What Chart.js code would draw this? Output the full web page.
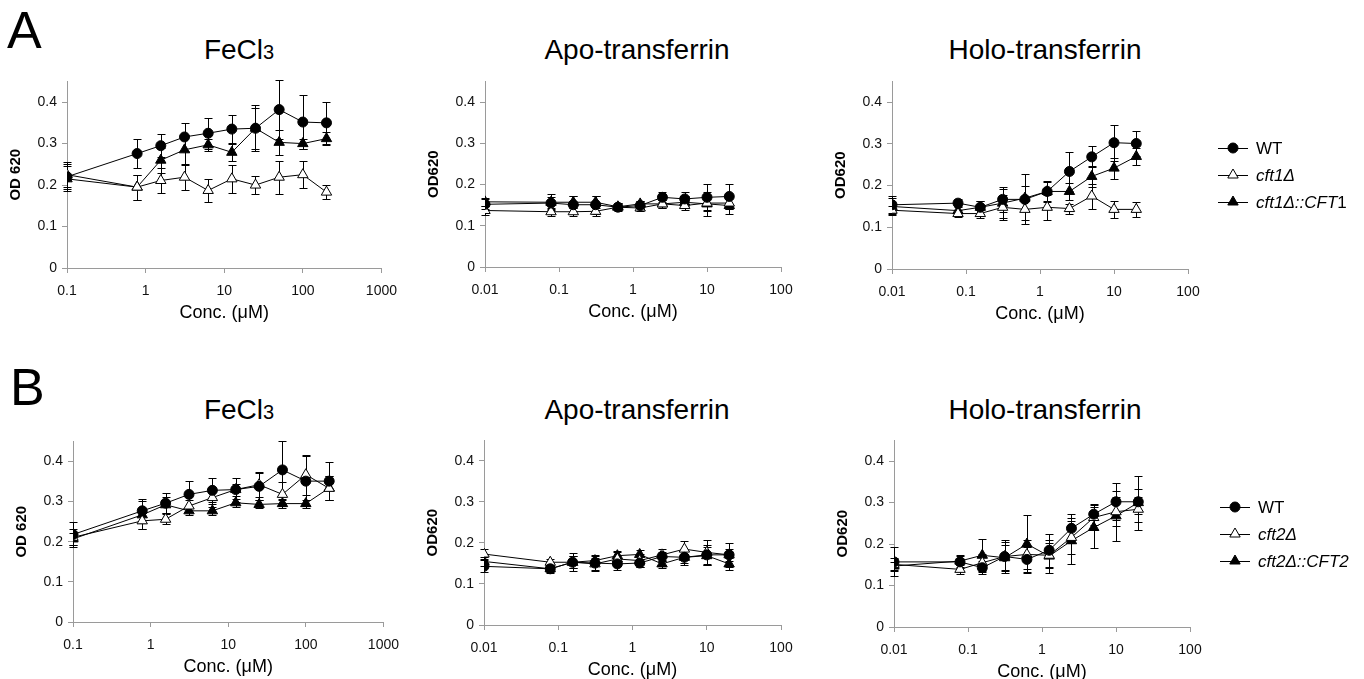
<!DOCTYPE html>
<html>
<head>
<meta charset="utf-8">
<script src="https://cdn.jsdelivr.net/npm/chart.js"></script>
<style>
  body { margin: 0; background: #fff; width: 1364px; height: 679px; overflow: hidden; position: relative;
         font-family: "Liberation Sans", Arial, sans-serif; }
  canvas { position: absolute; }
  .letter { position: absolute; font-size: 52px; line-height: 52px; color: #000; }
  .title { position: absolute; width: 300px; text-align: center; font-size: 28px; line-height: 32px; color: #000; }
  .title span { font-size: 20px; }
</style>
</head>
<body>
<div class="letter" style="left:7px;top:4px">A</div>
<div class="letter" style="left:10px;top:361px">B</div>
<div class="title" style="left:89px;top:34px">FeCl<span>3</span></div>
<div class="title" style="left:487px;top:34px">Apo-transferrin</div>
<div class="title" style="left:895px;top:34px">Holo-transferrin</div>
<div class="title" style="left:89px;top:394px">FeCl<span>3</span></div>
<div class="title" style="left:487px;top:394px">Apo-transferrin</div>
<div class="title" style="left:895px;top:394px">Holo-transferrin</div>

<canvas id="aFe" width="402" height="256" style="left:5px;top:68px"></canvas>
<canvas id="aApo" width="380" height="255" style="left:423px;top:68px"></canvas>
<canvas id="aHolo" width="534" height="257" style="left:830px;top:68px"></canvas>
<canvas id="bFe" width="398" height="250" style="left:11px;top:428px"></canvas>
<canvas id="bApo" width="381" height="254" style="left:422px;top:427px"></canvas>
<canvas id="bHolo" width="532" height="256" style="left:832px;top:427px"></canvas>

<script>
// concentrations (µM) and axis ticks
const concFe = [0.1, 0.78, 1.56, 3.125, 6.25, 12.5, 25, 50, 100, 200];
const concTf = [0.01, 0.078, 0.156, 0.3125, 0.625, 1.25, 2.5, 5, 10, 20];
const feTicks = [0.1, 1, 10, 100, 1000];
const tfTicks = [0.01, 0.1, 1, 10, 100];
const odTicks = [0, 0.1, 0.2, 0.3, 0.4];

const aLabels = ['WT', 'cft1Δ', 'cft1Δ::CFT1'];
const bLabels = ['WT', 'cft2Δ', 'cft2Δ::CFT2'];

// A - FeCl3
const aFeWT      = [0.22, 0.276, 0.295, 0.316, 0.325, 0.335, 0.337, 0.382, 0.352, 0.35];
const aFeWTErr   = [0.03, 0.034, 0.028, 0.034, 0.037, 0.034, 0.056, 0.072, 0.066, 0.05];
const aFeMut     = [0.225, 0.195, 0.211, 0.219, 0.187, 0.215, 0.2, 0.219, 0.225, 0.183];
const aFeMutErr  = [0.03, 0.03, 0.03, 0.03, 0.028, 0.033, 0.022, 0.04, 0.032, 0.017];
const aFeComp    = [0.215, 0.195, 0.26, 0.285, 0.297, 0.279, 0.337, 0.303, 0.30, 0.312];
const aFeCompErr = [0.03, 0.03, 0.03, 0.035, 0.015, 0.02, 0.05, 0.03, 0.012, 0.015];

// A - Apo-transferrin
const aApoWT      = [0.152, 0.155, 0.151, 0.151, 0.145, 0.149, 0.169, 0.165, 0.169, 0.171];
const aApoWTErr   = [0.012, 0.015, 0.02, 0.022, 0.01, 0.01, 0.012, 0.018, 0.032, 0.03];
const aApoMut     = [0.137, 0.134, 0.134, 0.135, 0.145, 0.143, 0.153, 0.149, 0.155, 0.155];
const aApoMutErr  = [0.01, 0.01, 0.01, 0.012, 0.008, 0.008, 0.01, 0.012, 0.02, 0.015];
const aApoComp    = [0.158, 0.157, 0.157, 0.157, 0.146, 0.153, 0.153, 0.157, 0.153, 0.149];
const aApoCompErr = [0.01, 0.02, 0.015, 0.015, 0.008, 0.008, 0.01, 0.015, 0.03, 0.02];

// A - Holo-transferrin
const aHoloWT      = [0.154, 0.158, 0.148, 0.167, 0.167, 0.186, 0.234, 0.269, 0.303, 0.301];
const aHoloWTErr   = [0.02, 0.01, 0.015, 0.03, 0.06, 0.022, 0.046, 0.025, 0.043, 0.03];
const aHoloMut     = [0.141, 0.133, 0.133, 0.148, 0.143, 0.148, 0.145, 0.175, 0.143, 0.143];
const aHoloMutErr  = [0.01, 0.008, 0.01, 0.03, 0.025, 0.03, 0.012, 0.03, 0.02, 0.018];
const aHoloComp    = [0.15, 0.14, 0.148, 0.158, 0.17, 0.186, 0.186, 0.222, 0.242, 0.27];
const aHoloCompErr = [0.02, 0.01, 0.015, 0.035, 0.03, 0.025, 0.02, 0.025, 0.025, 0.02];

// B - FeCl3
const bFeWT      = [0.218, 0.277, 0.296, 0.318, 0.328, 0.33, 0.338, 0.379, 0.351, 0.351];
const bFeWTErr   = [0.03, 0.03, 0.025, 0.033, 0.03, 0.03, 0.035, 0.072, 0.062, 0.048];
const bFeMut     = [0.211, 0.252, 0.256, 0.289, 0.31, 0.33, 0.342, 0.318, 0.367, 0.333];
const bFeMutErr  = [0.02, 0.02, 0.012, 0.015, 0.015, 0.015, 0.03, 0.03, 0.05, 0.03];
const bFeComp    = [0.207, 0.267, 0.292, 0.277, 0.277, 0.297, 0.293, 0.295, 0.295, 0.334];
const bFeCompErr = [0.015, 0.035, 0.02, 0.01, 0.01, 0.01, 0.01, 0.01, 0.01, 0.03];

// B - Apo-transferrin
const bApoWT      = [0.143, 0.137, 0.153, 0.151, 0.149, 0.151, 0.167, 0.165, 0.171, 0.171];
const bApoWTErr   = [0.015, 0.01, 0.022, 0.02, 0.015, 0.01, 0.012, 0.018, 0.025, 0.03];
const bApoMut     = [0.173, 0.153, 0.153, 0.149, 0.161, 0.157, 0.171, 0.185, 0.177, 0.171];
const bApoMutErr  = [0.012, 0.008, 0.015, 0.015, 0.018, 0.015, 0.015, 0.02, 0.03, 0.015];
const bApoComp    = [0.155, 0.137, 0.153, 0.157, 0.169, 0.172, 0.149, 0.165, 0.169, 0.149];
const bApoCompErr = [0.01, 0.008, 0.015, 0.012, 0.012, 0.01, 0.01, 0.015, 0.02, 0.015];

// B - Holo-transferrin
const bHoloWT      = [0.157, 0.157, 0.143, 0.17, 0.163, 0.185, 0.238, 0.272, 0.302, 0.302];
const bHoloWTErr   = [0.035, 0.015, 0.015, 0.04, 0.03, 0.04, 0.035, 0.025, 0.045, 0.03];
const bHoloMut     = [0.151, 0.139, 0.155, 0.17, 0.175, 0.173, 0.216, 0.264, 0.278, 0.284];
const bHoloMutErr  = [0.015, 0.01, 0.02, 0.035, 0.035, 0.03, 0.04, 0.03, 0.035, 0.03];
const bHoloComp    = [0.147, 0.159, 0.173, 0.167, 0.2, 0.171, 0.208, 0.24, 0.268, 0.3];
const bHoloCompErr = [0.01, 0.015, 0.04, 0.03, 0.07, 0.04, 0.055, 0.05, 0.06, 0.065];

const FONT = '"Liberation Sans", Arial, sans-serif';
Chart.defaults.font.family = FONT;
Chart.defaults.color = '#111';

const AXIS = '#9a9a9a';
const markers = [
  { pointStyle: 'circle', pointRadius: 5, pointBackgroundColor: '#000' },
  { pointStyle: 'triangle', pointRadius: 6, pointBackgroundColor: '#fff' },
  { pointStyle: 'triangle', pointRadius: 6, pointBackgroundColor: '#000' }
];

function drawMarker(ctx, style, x, y, r, fill) {
  ctx.beginPath();
  if (style === 'circle') {
    ctx.arc(x, y, r, 0, Math.PI * 2);
  } else {
    ctx.moveTo(x, y - r);
    ctx.lineTo(x + 0.866 * r, y + 0.5 * r);
    ctx.lineTo(x - 0.866 * r, y + 0.5 * r);
    ctx.closePath();
  }
  ctx.fillStyle = fill;
  ctx.fill();
  ctx.strokeStyle = '#000';
  ctx.lineWidth = 1;
  ctx.stroke();
}

// vertical error bars with caps, drawn under the markers
const errorBars = {
  id: 'errorBars',
  beforeDatasetsDraw(chart) {
    const { ctx, scales: { x, y } } = chart;
    ctx.save();
    ctx.strokeStyle = '#000';
    ctx.lineWidth = 1;
    chart.data.datasets.forEach(ds => {
      ds.data.forEach((p, i) => {
        const e = ds.errors[i];
        const px = Math.round(x.getPixelForValue(p.x)) + 0.5;
        const top = Math.round(y.getPixelForValue(p.y + e)) + 0.5;
        const bot = Math.round(y.getPixelForValue(p.y - e)) + 0.5;
        ctx.beginPath();
        ctx.moveTo(px, top); ctx.lineTo(px, bot);
        ctx.moveTo(px - 4, top); ctx.lineTo(px + 4, top);
        ctx.moveTo(px - 4, bot); ctx.lineTo(px + 4, bot);
        ctx.stroke();
      });
    });
    ctx.restore();
  }
};

// legend to the right: short line through the marker, strain names in italics
const strainLegend = {
  id: 'strainLegend',
  afterDraw(chart, args, opts) {
    if (!opts || !opts.labels) return;
    const { ctx, chartArea } = chart;
    const x0 = Math.round(chartArea.right + opts.dx);
    chart.data.datasets.forEach((ds, i) => {
      const yy = Math.round(chartArea.top + opts.dy + i * opts.gap);
      ctx.save();
      ctx.strokeStyle = '#000';
      ctx.lineWidth = 1;
      ctx.beginPath();
      ctx.moveTo(x0, yy + 0.5);
      ctx.lineTo(x0 + 30, yy + 0.5);
      ctx.stroke();
      drawMarker(ctx, ds.pointStyle, x0 + 15, yy, ds.pointRadius, ds.pointBackgroundColor);
      ctx.fillStyle = '#000';
      ctx.textBaseline = 'middle';
      const label = opts.labels[i];
      let tx = x0 + 38;
      let parts = [[label, i > 0]];
      if (opts.uprightTail && /\d$/.test(label) && label.includes('::')) {
        parts = [[label.slice(0, -1), true], [label.slice(-1), false]];
      }
      parts.forEach(([txt, ital]) => {
        ctx.font = (ital ? 'italic ' : '') + '17px ' + FONT;
        ctx.fillText(txt, tx, yy + 1);
        tx += ctx.measureText(txt).width;
      });
      ctx.restore();
    });
  }
};

function makePanel(id, conc, xTicks, values, errors, yTitle, padRight, legendLabels, uprightTail) {
  const datasets = values.map((vals, k) => Object.assign({
    label: (legendLabels || aLabels)[k],
    data: vals.map((v, i) => ({ x: conc[i], y: v })),
    errors: errors[k],
    borderColor: '#000',
    borderWidth: 1,
    pointBorderColor: '#000',
    pointBorderWidth: 1,
    tension: 0,
    fill: false
  }, markers[k]));

  const axisGrid = { drawOnChartArea: false, drawTicks: true, tickLength: 5, color: AXIS };

  const plugins = [errorBars];
  if (legendLabels) plugins.push(strainLegend);

  new Chart(document.getElementById(id), {
    type: 'line',
    data: { datasets },
    plugins,
    options: {
      responsive: false,
      animation: false,
      events: [],
      layout: { padding: { top: 12, right: padRight, left: 0, bottom: 0 } },
      plugins: {
        legend: { display: false },
        tooltip: { enabled: false },
        strainLegend: legendLabels ? { labels: legendLabels, dx: 30, dy: 67, gap: 27, uprightTail: !!uprightTail } : {}
      },
      scales: {
        x: {
          type: 'logarithmic',
          min: xTicks[0],
          max: xTicks[xTicks.length - 1],
          afterBuildTicks: s => { s.ticks = xTicks.map(v => ({ value: v })); },
          afterFit: s => { s.height = 56; },
          grid: axisGrid,
          border: { color: AXIS, width: 1 },
          ticks: { callback: v => String(v), padding: 10, font: { size: 14 }, color: '#111',
                   autoSkip: false, maxRotation: 0 },
          title: { display: true, text: 'Conc. (μM)', font: { size: 18 }, color: '#000',
                   padding: { top: 0, bottom: 0 } }
        },
        y: {
          min: 0,
          max: 0.45,
          afterBuildTicks: s => { s.ticks = odTicks.map(v => ({ value: v })); },
          afterFit: s => { s.width = 62; },
          grid: axisGrid,
          border: { color: AXIS, width: 1 },
          ticks: { callback: v => (v === 0 ? '0' : v.toFixed(1)), padding: 5, font: { size: 14 }, color: '#111' },
          title: { display: true, text: yTitle, font: { size: 15, weight: 'bold' }, color: '#000',
                   padding: { top: 2, bottom: 0 } }
        }
      }
    }
  });
}

makePanel('aFe', concFe, feTicks, [aFeWT, aFeMut, aFeComp], [aFeWTErr, aFeMutErr, aFeCompErr], 'OD 620', 22);
makePanel('aApo', concTf, tfTicks, [aApoWT, aApoMut, aApoComp], [aApoWTErr, aApoMutErr, aApoCompErr], 'OD620', 22);
makePanel('aHolo', concTf, tfTicks, [aHoloWT, aHoloMut, aHoloComp], [aHoloWTErr, aHoloMutErr, aHoloCompErr], 'OD620', 176, aLabels, true);
makePanel('bFe', concFe, feTicks, [bFeWT, bFeMut, bFeComp], [bFeWTErr, bFeMutErr, bFeCompErr], 'OD 620', 22);
makePanel('bApo', concTf, tfTicks, [bApoWT, bApoMut, bApoComp], [bApoWTErr, bApoMutErr, bApoCompErr], 'OD620', 22);
makePanel('bHolo', concTf, tfTicks, [bHoloWT, bHoloMut, bHoloComp], [bHoloWTErr, bHoloMutErr, bHoloCompErr], 'OD620', 174, bLabels, false);
</script>
</body>
</html>
